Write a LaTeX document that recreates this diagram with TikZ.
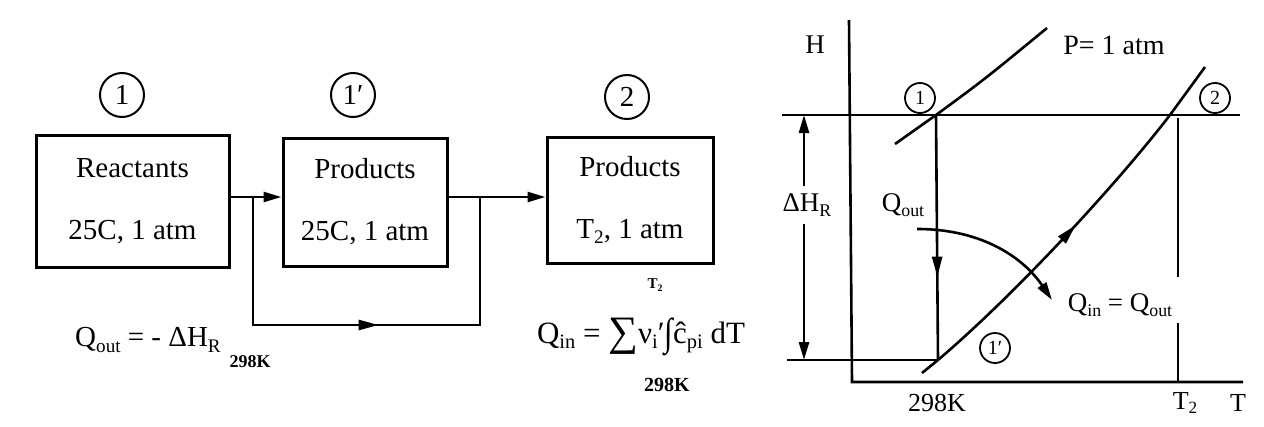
\documentclass[tikz,border=0pt]{standalone}
\usepackage{fontspec}
\usepackage{graphicx}
\setmainfont{Liberation Serif}
\usetikzlibrary{arrows.meta,decorations.markings}
\newcommand\dn[1]{\raisebox{-0.38ex}{\scalebox{0.66}{#1}}}
\newcommand\fs[1]{\fontsize{#1}{#1}\selectfont}
\begin{document}
\begin{tikzpicture}[x=1pt,y=-1pt,
  tip/.style={-{Triangle[length=18pt,width=10pt]}},
  box/.style={draw,line width=3pt,align=center,inner sep=0pt,font=\fontsize{29}{62}\selectfont},
  state/.style={draw,circle,line width=2pt,inner sep=0pt,minimum size=44pt,font=\fs{29}},
  gstate/.style={draw,circle,line width=1.8pt,inner sep=0pt,minimum size=30pt,font=\fs{20}},
  wire/.style={line width=2.6pt},
  gline/.style={line width=2.6pt},
  midtip/.style={postaction={decorate},decoration={markings,mark=at position #1 with {\arrow{Triangle[length=20pt,width=10pt]}}}},
  lbl/.style={inner sep=0pt,font=\fs{29}},
  glbl/.style={inner sep=0pt,font=\fs{27}},
  small/.style={inner sep=0pt,font=\bfseries\fs{18}}]
\useasboundingbox (0,0) rectangle (1264,426);
\fill[white] (0,0) rectangle (1264,426);

% ---- flow diagram ----
\node[box,minimum width=193pt,minimum height=132pt] (b1) at (132.5,201) {Reactants\\25C, 1 atm};
\node[box,minimum width=164pt,minimum height=128pt] (b2) at (365,202) {Products\\25C, 1 atm};
\node[box,minimum width=166pt,minimum height=126pt] (b3) at (630,200) {Products\\T\dn{2}, 1 atm};
\node[state] (s1) at (122,95) {1};
\node[state] (s1p) at (353,95) {1′};
\node[state] (s2) at (627,97) {2};

\coordinate (j1) at (253,197);
\coordinate (j2) at (480,197);
\coordinate (k1) at (253,325);
\coordinate (k2) at (480,325);
\draw[wire,tip] (b1.east |- j1) -- (b2.west |- j1);
\draw[wire,tip] (b2.east |- j2) -- (b3.west |- j2);
\draw[wire,midtip=0.525] (j1) -- (k1) -- (k2) -- (j2);

\node[lbl] (qo) at (148,340) {Q\dn{out} = - ΔH\dn{R}};
\node[small] (k298a) at (250,362) {298K};
\node[lbl,font=\fs{31}] (qi) at (641,337) {Q\dn{in} = \raisebox{-0.12ex}{\scalebox{1.35}{∑}}ν\dn{i}′\raisebox{-0.15ex}{\scalebox{1}[1.25]{∫}}ĉ\dn{pi} dT};
\node[small,font=\bfseries\fs{15}] (t2s) at (655,285) {T\dn{2}};
\node[small,font=\bfseries\fs{20}] (k298b) at (667,385) {298K};

% ---- H-T graph ----
\coordinate (p1) at (936,115);
\coordinate (p1p) at (938,360);
\coordinate (p2) at (1170,115);
\coordinate (ytop) at (849,20);
\coordinate (org) at (852,382);
\coordinate (xend) at (1243,382);
\draw[gline] (ytop) -- (org) -- (xend);
\coordinate (hl) at (782,115);
\coordinate (hr) at (1240,115);
\coordinate (ll) at (787,360);
\draw[gline] (hl) -- (hr);
\draw[gline] (ll) -- (p1p);

% Delta H_R dimension
\node[glbl] (dh) at (807,205) {ΔH\dn{R}};
\coordinate (dt) at (804,115);
\coordinate (db) at (804,360);
\draw[gline,tip] (dh.north -| dt) ++(0,-8) -- (dt);
\draw[gline,tip] (dh.south -| db) ++(0,8) -- (db);

% P = 1 atm line
\coordinate (pa) at (895,144);
\coordinate (pb) at (1047,28);
\draw[gline] (pa) -- (p1) .. controls (985,79) .. (pb);
\node[glbl,font=\fs{28}] (patm) at (1114,45) {P= 1 atm};
\node[glbl] (H) at (815,45) {H};

% 1 -> 1' (Q out)
\draw[gline,midtip=0.66] (p1) -- (p1p);
\node[glbl] (qo2) at (903,205) {Q\dn{out}};

% products curve 1' -> 2
\coordinate (ca) at (922,373);
\coordinate (cb) at (1205,67);
\draw[gline] (ca) -- (p1p);
\draw[gline,midtip=0.57] (p1p) .. controls (1020,290) and (1120,180) .. (p2);
\draw[gline] (p2) -- (cb);

% T2 line
\node[glbl] (qq) at (1120,305) {Q\dn{in} = Q\dn{out}};
\coordinate (t2top) at (1178,118);
\coordinate (t2bot) at (1178,382);
\draw[gline] (t2top) -- (1178,277);
\draw[gline] (1178,323) -- (t2bot);

% curved arrow Qout -> Qin
\coordinate (qa) at (917,229);
\coordinate (qb) at (1052,300);
\draw[gline,tip] (qa) .. controls (985,229) and (1025,260) .. (qb);

\node[gstate] (g1) at (920,98) {1};
\node[gstate] (g1p) at (995,348) {1′};
\node[gstate] (g2) at (1215,98) {2};

\node[glbl,font=\fs{26}] (k298c) at (937,403) {298K};
\node[glbl,font=\fs{26}] (T2) at (1185,403) {T\dn{2}};
\node[glbl,font=\fs{26}] (T) at (1238,403) {T};
\end{tikzpicture}
\end{document}
